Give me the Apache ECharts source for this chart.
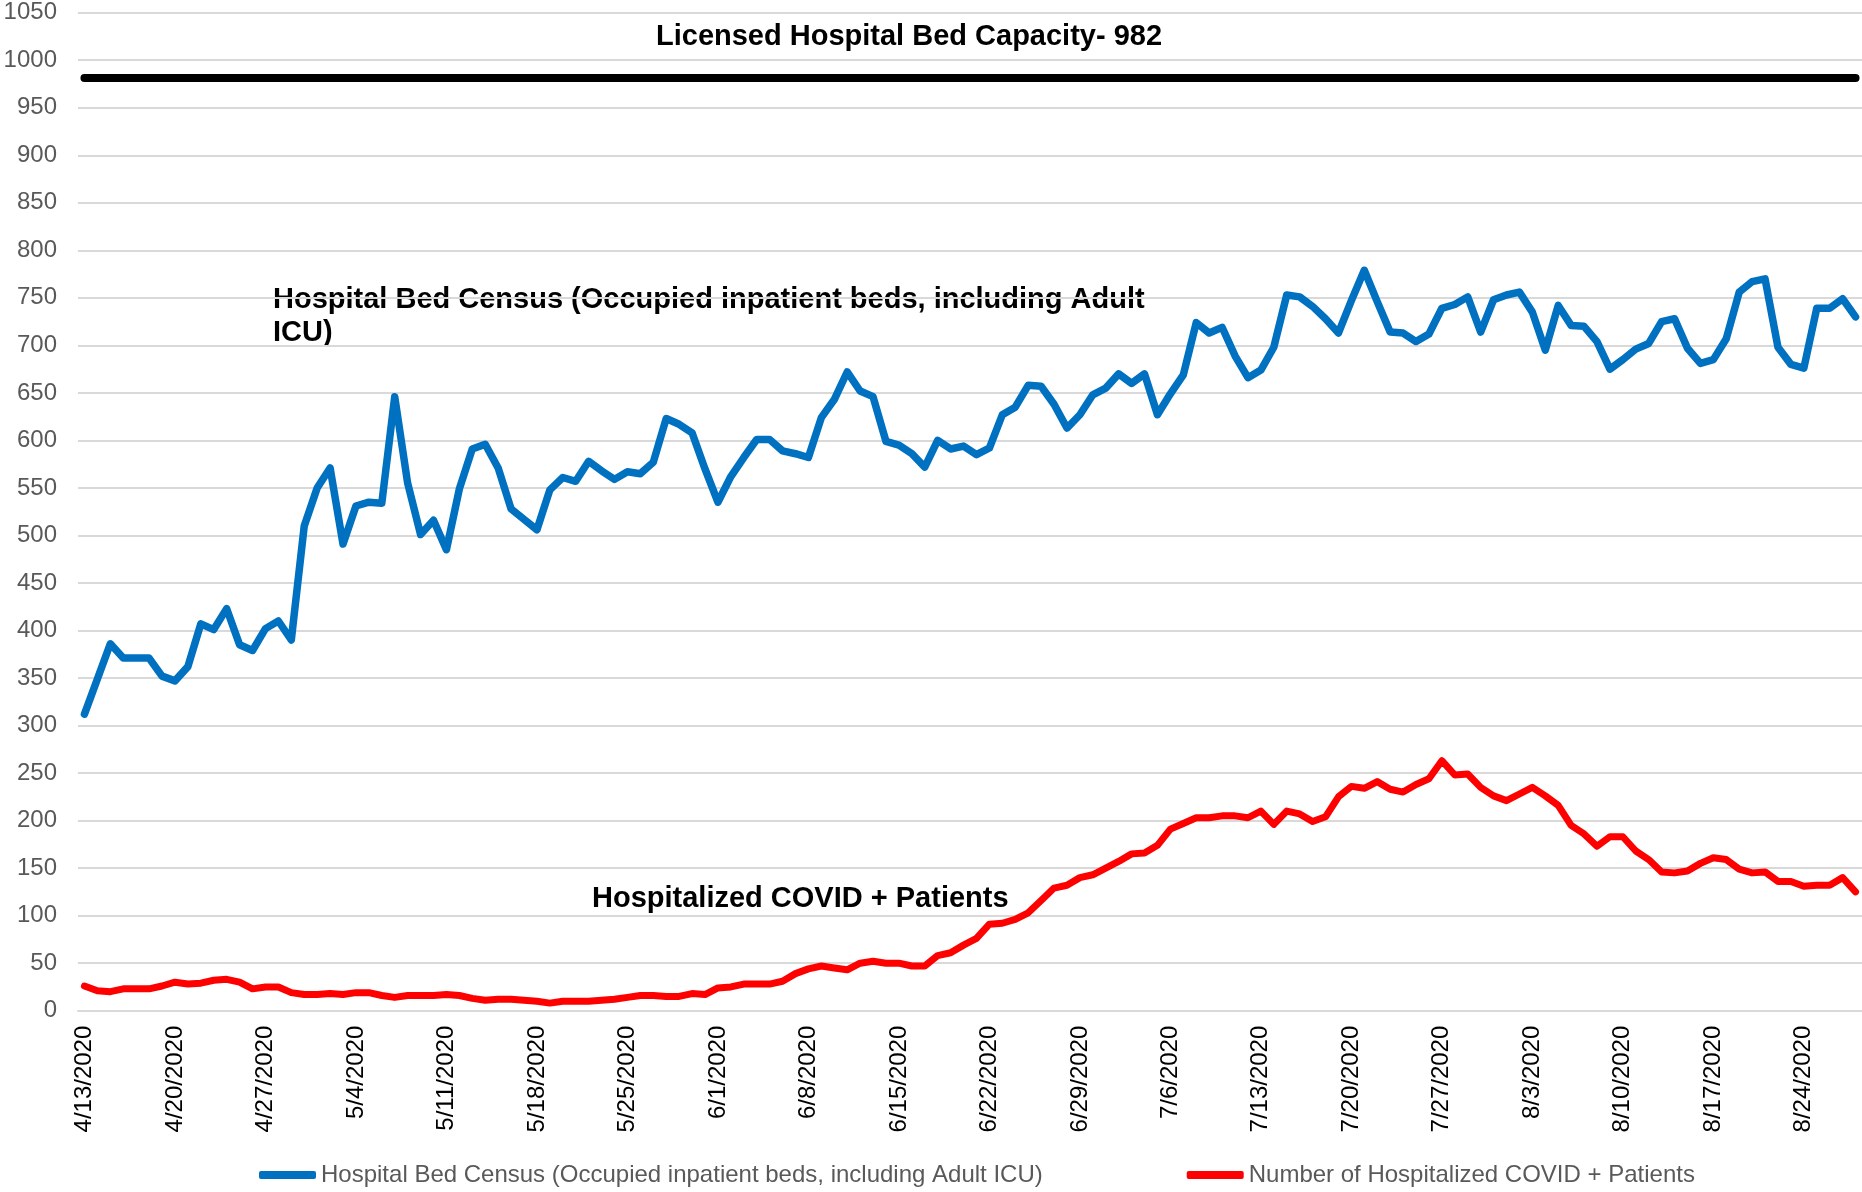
<!DOCTYPE html>
<html>
<head>
<meta charset="utf-8">
<script src="https://cdn.jsdelivr.net/npm/echarts@6/dist/echarts.min.js"></script>
<style>
html,body{margin:0;padding:0;background:#fff;}
#chart{width:1862px;height:1192px;}
</style>
</head>
<body>
<div id="chart"></div>
<script>
const dates = [
'4/13/2020','4/14/2020','4/15/2020','4/16/2020','4/17/2020','4/18/2020','4/19/2020','4/20/2020','4/21/2020','4/22/2020','4/23/2020','4/24/2020','4/25/2020','4/26/2020','4/27/2020','4/28/2020','4/29/2020','4/30/2020',
'5/1/2020','5/2/2020','5/3/2020','5/4/2020','5/5/2020','5/6/2020','5/7/2020','5/8/2020','5/9/2020','5/10/2020','5/11/2020','5/12/2020','5/13/2020','5/14/2020','5/15/2020','5/16/2020','5/17/2020','5/18/2020','5/19/2020','5/20/2020','5/21/2020','5/22/2020','5/23/2020','5/24/2020','5/25/2020','5/26/2020','5/27/2020','5/28/2020','5/29/2020','5/30/2020','5/31/2020',
'6/1/2020','6/2/2020','6/3/2020','6/4/2020','6/5/2020','6/6/2020','6/7/2020','6/8/2020','6/9/2020','6/10/2020','6/11/2020','6/12/2020','6/13/2020','6/14/2020','6/15/2020','6/16/2020','6/17/2020','6/18/2020','6/19/2020','6/20/2020','6/21/2020','6/22/2020','6/23/2020','6/24/2020','6/25/2020','6/26/2020','6/27/2020','6/28/2020','6/29/2020','6/30/2020',
'7/1/2020','7/2/2020','7/3/2020','7/4/2020','7/5/2020','7/6/2020','7/7/2020','7/8/2020','7/9/2020','7/10/2020','7/11/2020','7/12/2020','7/13/2020','7/14/2020','7/15/2020','7/16/2020','7/17/2020','7/18/2020','7/19/2020','7/20/2020','7/21/2020','7/22/2020','7/23/2020','7/24/2020','7/25/2020','7/26/2020','7/27/2020','7/28/2020','7/29/2020','7/30/2020','7/31/2020',
'8/1/2020','8/2/2020','8/3/2020','8/4/2020','8/5/2020','8/6/2020','8/7/2020','8/8/2020','8/9/2020','8/10/2020','8/11/2020','8/12/2020','8/13/2020','8/14/2020','8/15/2020','8/16/2020','8/17/2020','8/18/2020','8/19/2020','8/20/2020','8/21/2020','8/22/2020','8/23/2020','8/24/2020','8/25/2020','8/26/2020','8/27/2020','8/28/2020'
];

const bedCensus = [
312,349,386,371,371,371,352,347,362,407,401,423,385,379,402,410,390,510,550,571,491,531,535,
534,646,555,501,516,485,549,591,596,571,528,517,506,548,561,557,578,568,559,567,565,577,623,
617,608,570,535,562,582,601,601,589,586,582,624,643,672,652,646,599,595,586,572,600,591,594,
585,592,627,635,658,657,638,613,627,648,655,670,660,670,627,649,669,724,713,719,689,666,674,
698,753,751,741,728,713,747,779,746,714,713,704,712,739,743,751,714,748,753,756,735,695,742,
721,720,704,675,685,696,702,725,728,697,681,685,707,756,767,770,698,680,676,739,739,749,730
];

const covidPatients = [
26,21,20,23,23,23,26,30,28,29,32,33,30,23,25,25,19,17,17,18,17,19,19,
16,14,16,16,16,17,16,13,11,12,12,11,10,8,10,10,10,11,12,14,16,16,15,
15,18,17,24,25,28,28,28,31,39,44,47,45,43,50,52,50,50,47,47,58,61,69,
76,91,92,96,103,116,129,132,140,143,150,157,165,166,174,191,197,203,203,205,205,203,210,
196,210,207,199,204,225,236,234,241,233,230,238,244,263,248,249,235,226,221,228,235,226,216,
195,186,173,183,183,168,159,146,145,147,155,161,159,149,145,146,136,136,131,132,132,140,125
];

const capacity = 982;
const seriesNames = ['Hospital Bed Census (Occupied inpatient beds, including Adult ICU)', 'Number of Hospitalized COVID + Patients'];
const FONT = "'Liberation Sans', Arial, sans-serif";

const chart = echarts.init(document.getElementById('chart'));
chart.setOption({
  animation: false,
  backgroundColor: '#ffffff',
  textStyle: { fontFamily: FONT },
  grid: { left: 78, right: 0, top: 12.7, bottom: 181.3, containLabel: false, outerBoundsMode: 'none' },
  legend: {
    data: seriesNames,
    left: 259, top: 1163,
    padding: 0,
    itemGap: 144,
    itemWidth: 57, itemHeight: 8,
    icon: 'roundRect',
    textStyle: { fontSize: 24, color: '#595959', fontFamily: FONT }
  },
  xAxis: {
    type: 'category',
    data: dates,
    boundaryGap: true,
    axisLine: { lineStyle: { color: '#d9d9d9', width: 2 } },
    axisTick: { interval: 6, length: 7, lineStyle: { color: '#d9d9d9', width: 2 } },
    axisLabel: { interval: 6, rotate: 90, fontSize: 24, color: '#000000', margin: 15, fontFamily: FONT },
    splitLine: { show: false }
  },
  yAxis: {
    type: 'value',
    min: 0, max: 1050, interval: 50,
    axisLine: { show: false },
    axisTick: { show: false },
    axisLabel: { fontSize: 24, color: '#595959', margin: 21, fontFamily: FONT, formatter: function (v) { return String(v); } },
    splitLine: { lineStyle: { color: '#d9d9d9', width: 2 } }
  },
  series: [
    {
      name: seriesNames[0],
      type: 'line',
      data: bedCensus,
      symbol: 'none',
      color: '#0070C0',
      lineStyle: { color: '#0070C0', width: 7.5, join: 'round', cap: 'round' },
      z: 3,
      markLine: {
        silent: true,
        symbol: ['none', 'none'],
        label: { show: false },
        lineStyle: { color: '#000000', width: 8, type: 'solid', cap: 'round' },
        data: [[{ xAxis: 0, yAxis: capacity }, { xAxis: dates.length - 1, yAxis: capacity }]]
      }
    },
    {
      name: seriesNames[1],
      type: 'line',
      data: covidPatients,
      symbol: 'none',
      color: '#FF0000',
      lineStyle: { color: '#FF0000', width: 7, join: 'round', cap: 'round' },
      z: 3
    }
  ],
  graphic: [
    {
      type: 'text', x: 656, y: 36.5,
      style: { text: 'Licensed Hospital Bed Capacity- 982', fill: '#000', fontSize: 29, fontWeight: 'bold', fontFamily: FONT, verticalAlign: 'middle' }
    },
    {
      type: 'text', x: 273, y: 283,
      style: { text: 'Hospital Bed Census (Occupied inpatient beds, including Adult\nICU)', fill: '#000', fontSize: 29, fontWeight: 'bold', fontFamily: FONT, lineHeight: 33, verticalAlign: 'top' }
    },
    {
      type: 'text', x: 592, y: 898.5,
      style: { text: 'Hospitalized COVID + Patients', fill: '#000', fontSize: 29, fontWeight: 'bold', fontFamily: FONT, verticalAlign: 'middle' }
    }
  ]
});
</script>
</body>
</html>
